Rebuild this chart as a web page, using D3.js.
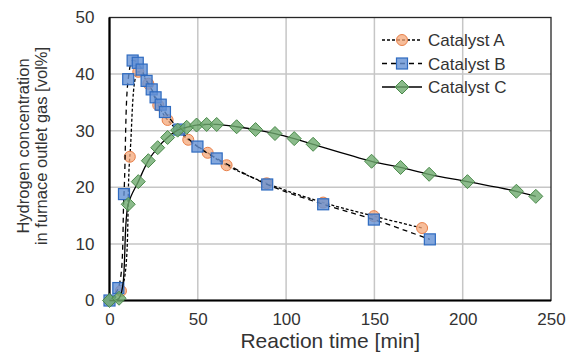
<!DOCTYPE html>
<html>
<head>
<meta charset="utf-8">
<script src="https://cdn.jsdelivr.net/npm/d3@7"></script>
<style>
  body { margin: 0; background: #fff; }
  text { font-family: "Liberation Sans", Arial, sans-serif; fill: #333; }
</style>
</head>
<body>
<div id="chart"></div>
<script>
// Data
const timeA = [0, 6.5, 11.5, 16.3, 22, 27.6, 32.9, 44.6, 55.6, 66.3, 89, 121, 149.7, 177];
const h2A   = [0, 1.7, 25.4, 40.4, 38.3, 34.5, 31.9, 28.4, 26.1, 23.9, 20.7, 17.3, 14.9, 12.8];

const timeB = [0, 5, 8.2, 10.6, 13.1, 16, 18.2, 21, 23.9, 26.1, 29, 31.4, 39.5, 49.8, 60.7, 89.3, 121, 149.7, 181.4];
const h2B   = [0, 2.2, 18.8, 39.1, 42.4, 42, 40.8, 38.8, 37.3, 35.9, 34.6, 33.3, 30.2, 27.2, 25.1, 20.5, 17, 14.3, 10.8];

const timeC = [0, 5.4, 10.6, 16.3, 22, 27.3, 32.9, 38.6, 43.7, 49.3, 55, 60.7, 72, 82.7, 93.7, 104.6, 115.3, 148.4, 164.8, 181, 202.7, 230.4, 241.4];
const h2C   = [0, 0.4, 17, 21, 24.7, 27, 28.8, 30.1, 30.6, 31, 31.1, 31.1, 30.7, 30.2, 29.5, 28.6, 27.6, 24.6, 23.5, 22.3, 21, 19.3, 18.4];

const seriesNames = ["Catalyst A", "Catalyst B", "Catalyst C"];
const xTicks = [0, 50, 100, 150, 200, 250];
const yTicks = [0, 10, 20, 30, 40, 50];

const W = 567, H = 355;
const margin = { top: 17.5, right: 16, bottom: 54.5, left: 109.5 };
const width = W - margin.left - margin.right;
const height = H - margin.top - margin.bottom;

const svg = d3.select("#chart").append("svg")
    .attr("width", W)
    .attr("height", H);

const g = svg.append("g")
    .attr("transform", `translate(${margin.left},${margin.top})`);

const x = d3.scaleLinear().domain([0, 250]).range([0, width]);
const y = d3.scaleLinear().domain([0, 50]).range([height, 0]);

// gridlines
g.append("g").selectAll("line.vg")
    .data(xTicks.slice(1, -1))
    .enter().append("line")
    .attr("x1", d => x(d)).attr("x2", d => x(d))
    .attr("y1", 0).attr("y2", height)
    .attr("stroke", "#c6c6c6").attr("stroke-width", 1.5);

g.append("g").selectAll("line.hg")
    .data(yTicks.slice(1, -1))
    .enter().append("line")
    .attr("x1", 0).attr("x2", width)
    .attr("y1", d => y(d)).attr("y2", d => y(d))
    .attr("stroke", "#c6c6c6").attr("stroke-width", 1.5);

// plot border
g.append("rect")
    .attr("width", width).attr("height", height)
    .attr("fill", "none")
    .attr("stroke", "#262626").attr("stroke-width", 1.3);

// axes
const xAxis = g.append("g")
    .attr("transform", `translate(0,${height})`)
    .call(d3.axisBottom(x).tickValues(xTicks).tickSize(0).tickPadding(12));
const yAxis = g.append("g")
    .call(d3.axisLeft(y).tickValues(yTicks).tickSize(0).tickPadding(15));

[xAxis, yAxis].forEach(a => {
    a.select(".domain").remove();
    a.selectAll("text")
        .style("font-size", "17px")
        .style("font-family", "'Liberation Sans', Arial, sans-serif")
        .attr("fill", "#333");
});

g.append("line")
    .attr("x1", 0).attr("x2", 0).attr("y1", 0).attr("y2", height)
    .attr("stroke", "#000").attr("stroke-width", 2.2);
g.append("line")
    .attr("x1", 0).attr("x2", width).attr("y1", height).attr("y2", height)
    .attr("stroke", "#000").attr("stroke-width", 2.2);

// axis titles
svg.append("text")
    .attr("x", margin.left + width / 2)
    .attr("y", 348)
    .attr("text-anchor", "middle")
    .style("font-size", "21px")
    .text("Reaction time [min]");

const yTitle = svg.append("text")
    .attr("transform", "rotate(-90)")
    .attr("text-anchor", "middle")
    .style("font-size", "16.5px");
yTitle.append("tspan").attr("x", -146).attr("y", 28.5).text("Hydrogen concentration");
yTitle.append("tspan").attr("x", -146).attr("y", 47).text("in furnace outlet gas [vol%]");

// series styles
const styles = [
    { dash: "3,2", fill: "rgba(244,167,120,0.75)", stroke: "#e8804a", shape: "circle" },
    { dash: "5,4", fill: "rgba(100,145,212,0.8)", stroke: "#2f6bc0", shape: "square" },
    { dash: null, fill: "rgba(110,170,110,0.8)", stroke: "#4a8a4a", shape: "diamond" }
];

const series = [
    timeA.map((t, i) => ({ t: t, v: h2A[i] })),
    timeB.map((t, i) => ({ t: t, v: h2B[i] })),
    timeC.map((t, i) => ({ t: t, v: h2C[i] }))
];

const line = d3.line()
    .x(d => x(d.t))
    .y(d => y(d.v))
    .curve(d3.curveCatmullRom.alpha(0.5));

function drawMarker(sel, st, cx, cy) {
    if (st.shape === "circle") {
        sel.append("circle").attr("cx", cx).attr("cy", cy).attr("r", 5.5)
            .attr("fill", st.fill).attr("stroke", st.stroke).attr("stroke-width", 1);
    } else if (st.shape === "square") {
        sel.append("rect").attr("x", cx - 5.5).attr("y", cy - 5.5)
            .attr("width", 11).attr("height", 11)
            .attr("fill", st.fill).attr("stroke", st.stroke).attr("stroke-width", 1.2);
    } else {
        sel.append("path")
            .attr("d", `M${cx},${cy - 7}L${cx + 7},${cy}L${cx},${cy + 7}L${cx - 7},${cy}Z`)
            .attr("fill", st.fill).attr("stroke", st.stroke).attr("stroke-width", 1);
    }
}

series.forEach((data, i) => {
    const st = styles[i];
    const sg = g.append("g");
    sg.append("path")
        .datum(data)
        .attr("d", line)
        .attr("fill", "none")
        .attr("stroke", "#000")
        .attr("stroke-width", 1.3)
        .attr("stroke-dasharray", st.dash);
    data.forEach(d => drawMarker(sg, st, x(d.t), y(d.v)));
});

// legend
const legendY = [40, 63.5, 87];
seriesNames.forEach((name, i) => {
    const st = styles[i];
    const lg = svg.append("g");
    lg.append("line")
        .attr("x1", 382).attr("x2", 422)
        .attr("y1", legendY[i]).attr("y2", legendY[i])
        .attr("stroke", "#000").attr("stroke-width", 1.3)
        .attr("stroke-dasharray", st.dash);
    drawMarker(lg, st, 402, legendY[i]);
    lg.append("text")
        .attr("x", 428).attr("y", legendY[i] + 6)
        .style("font-size", "17px")
        .text(name);
});
</script>
</body>
</html>
